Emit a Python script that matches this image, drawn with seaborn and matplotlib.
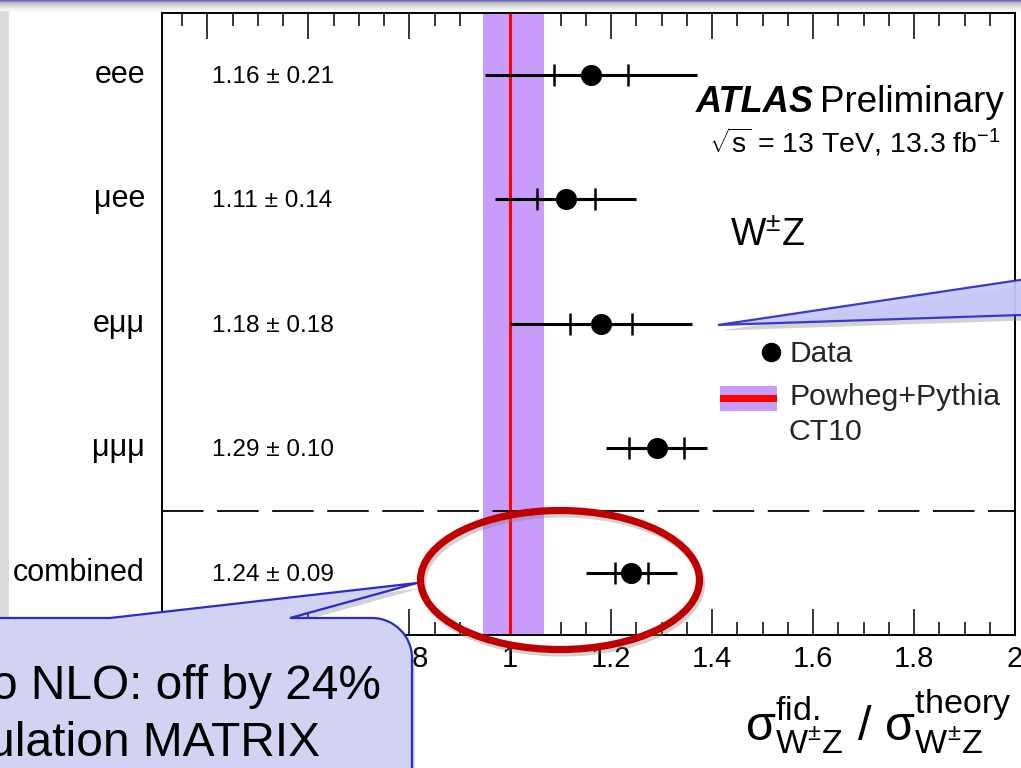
import numpy as np
import pandas as pd
import matplotlib
matplotlib.use("Agg")
import matplotlib.pyplot as plt
import seaborn as sns
from matplotlib.patches import Rectangle, Ellipse, PathPatch
from matplotlib.path import Path
from matplotlib.ticker import FixedLocator, MultipleLocator, FuncFormatter
from matplotlib.transforms import Affine2D, blended_transform_factory
import matplotlib.patheffects as pe

# ---- measured cross-section ratios per channel ----
channels = ["eee", "μee", "eμμ", "μμμ", "combined"]
ratio = [1.16, 1.11, 1.18, 1.29, 1.24]
total_err = [0.21, 0.14, 0.18, 0.10, 0.09]
stat_err = [0.073, 0.058, 0.062, 0.055, 0.032]
row_pos = [5, 4, 3, 2, 1]

# ---- theory prediction (Powheg+Pythia CT10) ----
theory_central = 1.0
theory_down = 0.054
theory_up = 0.066

x_ticks = [0.4, 0.6, 0.8, 1.0, 1.2, 1.4, 1.6, 1.8, 2.0]
x_tick_labels = ["", "", "0.8", "1", "1.2", "1.4", "1.6", "1.8", "2"]
x_range = (0.31, 2.0)
y_range = (0.5, 5.5)

W, H = 1021, 768

sns.set_theme(style="ticks")
plt.rcParams["font.family"] = ["Liberation Sans", "DejaVu Sans"]
plt.rcParams["mathtext.fontset"] = "custom"
plt.rcParams["mathtext.rm"] = "Liberation Sans"
plt.rcParams["mathtext.it"] = "Liberation Sans:italic"
plt.rcParams["mathtext.bf"] = "Liberation Sans:bold"
plt.rcParams["mathtext.sf"] = "Liberation Sans"

df = pd.DataFrame({"channel": channels, "ratio": ratio, "total": total_err,
                   "stat": stat_err, "pos": row_pos})

fig = plt.figure(figsize=(W / 100, H / 100), dpi=100, facecolor="white")
# pixel coordinates measured from the top-left corner
PX = Affine2D().scale(1, -1).translate(0, H)

ax_left, ax_right, ax_top, ax_bot = 162, 1015, 12.5, 635
ax = fig.add_axes([ax_left / W, 1 - ax_bot / H, (ax_right - ax_left) / W, (ax_bot - ax_top) / H])
ax.set_facecolor("white")

# theory band and central value
ax.axvspan(theory_central - theory_down, theory_central + theory_up,
           color="#c99bfa", lw=0, zorder=1)
ax.axvline(theory_central, color="#ff0000", lw=2.2, zorder=2)

# separator between single channels and the combination
ax.axhline(1.5, color="black", lw=1.3, dashes=(23, 7.5), zorder=2)

# total and statistical uncertainties
ax.errorbar(df["ratio"], df["pos"], xerr=df["total"], fmt="none", ecolor="black",
            elinewidth=2.2, capsize=0, zorder=3)
ax.errorbar(df["ratio"], df["pos"], xerr=df["stat"], fmt="none", ecolor="black",
            elinewidth=2.2, capsize=8, capthick=1.8, zorder=3)
sns.scatterplot(data=df, x="ratio", y="pos", color="black", s=230, linewidth=0,
                zorder=4, ax=ax, legend=False)

ax.set_xlim(*x_range)
ax.set_ylim(*y_range)
ax.set_xlabel("")
ax.set_ylabel("")
ax.set_yticks([])
ax.xaxis.set_major_locator(FixedLocator(x_ticks))
ax.xaxis.set_minor_locator(MultipleLocator(0.05))
ax.xaxis.set_major_formatter(FuncFormatter(lambda v, p: x_tick_labels[p] if p is not None and p < len(x_tick_labels) else f"{v:g}"))
ax.tick_params(axis="x", which="both", direction="in", top=True, bottom=True,
               color="black", width=1.1, labelsize=21, pad=7, labelcolor="black")
ax.tick_params(axis="x", which="major", length=18.5)
ax.tick_params(axis="x", which="minor", length=9.5)
for s in ax.spines.values():
    s.set_color("black")
    s.set_linewidth(1.4)
    s.set_zorder(5)

# per-channel labels and values
tr = blended_transform_factory(ax.transAxes, ax.transData)
for ch, r, e, y in zip(df["channel"], df["ratio"], df["total"], df["pos"]):
    ax.text(-0.02, y - 0.066, ch, transform=tr, ha="right", va="baseline",
            fontsize=22, color="black")
    ax.text(0.0586, y - 0.066, f"{r:.2f} ± {e:.2f}", transform=tr, ha="left",
            va="baseline", fontsize=17.6, color="black")

# experiment labels
fig.text(814, 112, "ATLAS", transform=PX, ha="right", va="baseline", fontsize=26,
         fontweight="bold", style="italic", color="black")
fig.text(1004, 112, "Preliminary", transform=PX, ha="right", va="baseline",
         fontsize=26.5, color="black")
fig.text(1001, 153, r"$\sqrt{\mathrm{s}}$ = 13 TeV, 13.3 fb$^{-1}$", transform=PX,
         ha="right", va="baseline", fontsize=20.5, color="black")
fig.text(730, 246, r"W$^{\pm}$Z", transform=PX, ha="left", va="baseline",
         fontsize=27, color="black")

# legend
ax.plot([771], [352], marker="o", ms=13, color="black", transform=PX, clip_on=False)
fig.text(789, 362, "Data", transform=PX, ha="left", va="baseline", fontsize=21.5)
fig.add_artist(Rectangle((720, 386), 57, 25, transform=PX, color="#c99bfa", lw=0))
fig.add_artist(Rectangle((720, 395), 57, 7, transform=PX, color="#ff0000", lw=0))
fig.text(789, 405, "Powheg+Pythia", transform=PX, ha="left", va="baseline", fontsize=21.8)
fig.text(789, 440, "CT10", transform=PX, ha="left", va="baseline", fontsize=21.8)

# axis title
fig.text(1012, 722,
         r"$\mathrm{σ}^{\mathrm{fid.}}_{\mathrm{W^{\pm}Z}}$ / $\mathrm{σ}^{\mathrm{theory}}_{\mathrm{W^{\pm}Z}}$",
         transform=PX, ha="right", va="center", fontsize=35, color="black")

# ---- slide furniture ----
top_cols = [(0.42, 0.42, 0.78), (0.55, 0.55, 0.75), (0.70, 0.70, 0.72),
            (0.76, 0.76, 0.76), (0.80, 0.80, 0.80), (0.84, 0.84, 0.84),
            (0.87, 0.87, 0.87), (0.90, 0.90, 0.90), (0.93, 0.93, 0.93),
            (0.95, 0.95, 0.95), (0.97, 0.97, 0.97), (0.99, 0.99, 0.99)]
for i, c in enumerate(top_cols):
    fig.add_artist(Rectangle((0, i), W, 1.05, transform=PX, color=c, lw=0, zorder=6))
fig.add_artist(Rectangle((0, 11), 8.5, 607, transform=PX, color="#dcdcdc", lw=0, zorder=6))

edge_blue = "#2b2bc8"
shadow = [pe.SimplePatchShadow(offset=(2, -4), shadow_rgbFace="#808080", alpha=0.35), pe.Normal()]

# upper-right callout pointer
verts = [(718, 325), (1030, 278.5), (1030, 314.7), (718, 325)]
codes = [Path.MOVETO, Path.LINETO, Path.LINETO, Path.CLOSEPOLY]
fig.add_artist(PathPatch(Path(verts, codes), transform=PX, facecolor="#c8c8fa",
                         edgecolor=edge_blue, lw=1.6, alpha=0.92, zorder=7,
                         path_effects=shadow))

# lower-left callout box with pointer
verts = [(-10, 618), (110, 618), (417, 583), (290, 618), (372, 618),
         (394, 618), (412, 636), (412, 658), (412, 790), (-10, 790), (-10, 618)]
codes = [Path.MOVETO, Path.LINETO, Path.LINETO, Path.LINETO, Path.LINETO,
         Path.CURVE4, Path.CURVE4, Path.CURVE4, Path.LINETO, Path.LINETO, Path.CLOSEPOLY]
fig.add_artist(PathPatch(Path(verts, codes), transform=PX, facecolor="#d2d2f3",
                         edgecolor=edge_blue, lw=1.6, zorder=7, path_effects=shadow))
fig.text(-9, 699, "o NLO: off by 24%", transform=PX, ha="left", va="baseline",
         fontsize=34.5, color="black", zorder=8)
fig.text(-12, 756, "ulation MATRIX", transform=PX, ha="left", va="baseline",
         fontsize=34.5, color="black", zorder=8)

# highlight around the combined result
fig.add_artist(Ellipse((560, 580), 279, 139, transform=PX, fill=False,
                       edgecolor="#c00000", lw=5.2, zorder=9,
                       path_effects=[pe.SimpleLineShadow(offset=(1.5, -2.5), shadow_color="#808080", alpha=0.35), pe.Normal()]))

fig.savefig("out.png", dpi=100, facecolor="white")
